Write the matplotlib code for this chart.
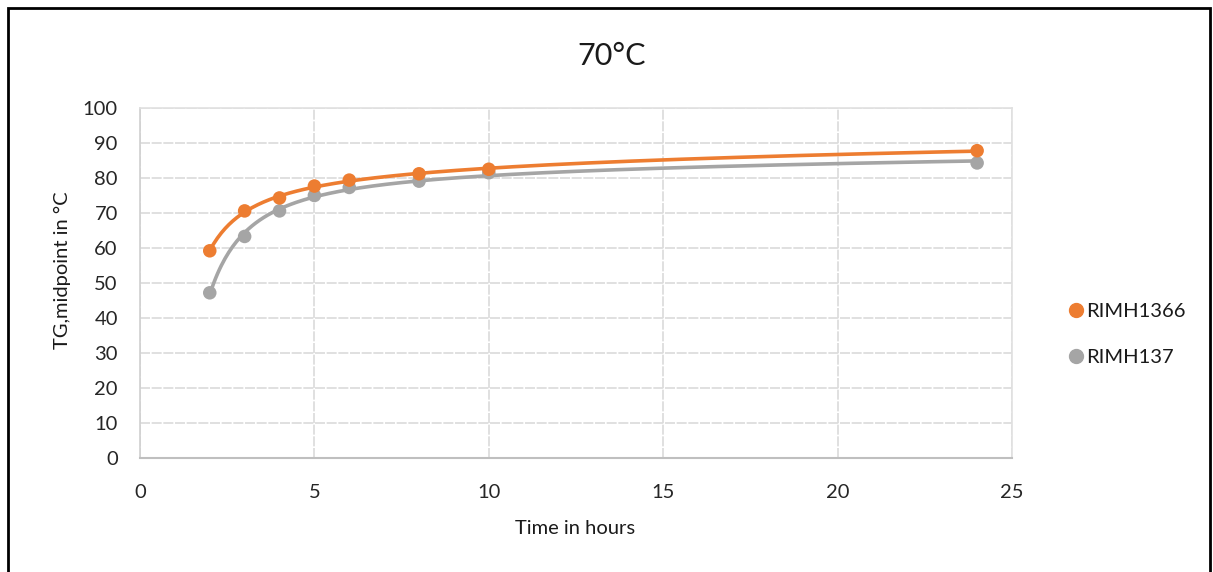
import numpy as np
import matplotlib
matplotlib.use("Agg")
import matplotlib.pyplot as plt
from matplotlib.patches import Rectangle
from matplotlib.lines import Line2D

plt.rcParams['font.family'] = ['Lato', 'DejaVu Sans']

# ---- data ----
hours = [2, 3, 4, 5, 6, 8, 10, 24]
rimh1366 = [59.2, 70.6, 74.3, 77.7, 79.4, 81.2, 82.5, 87.8]
rimh137 = [47.2, 63.3, 70.6, 75.0, 77.3, 79.1, 81.5, 84.3]
series_names = ["RIMH1366", "RIMH137"]
title = "70°C"
xlabel = "Time in hours"
ylabel = "TG,midpoint in °C"
xticks = [0, 5, 10, 15, 20, 25]
yticks = [0, 10, 20, 30, 40, 50, 60, 70, 80, 90, 100]

colors = ["#ED7D31", "#A5A5A5"]

fig = plt.figure(figsize=(12.13, 5.72), dpi=100)
ax = fig.add_axes([140/1213, 1-458/572, (1012-140)/1213, (458-108)/572])

def trend(x, y):
    x = np.asarray(x, float); y = np.asarray(y, float)
    A = np.column_stack([np.ones_like(x), np.log(x), 1.0/x**2])
    coef, *_ = np.linalg.lstsq(A, y, rcond=None)
    xs = np.linspace(x.min(), x.max(), 400)
    ys = coef[0] + coef[1]*np.log(xs) + coef[2]/xs**2
    return xs, ys

for yv, c in zip([rimh137, rimh1366], colors[::-1]):
    xs, ys = trend(hours, yv)
    ax.plot(xs, ys, color=c, lw=2.6, zorder=3, solid_capstyle='round')
    ax.scatter(hours, yv, s=95, color=c, zorder=4, edgecolors='none')

handles = [Line2D([], [], marker='o', ls='none', color=c, markersize=10, label=name)
           for name, c in zip(series_names, colors)]

ax.set_xlim(0, 25)
ax.set_ylim(0, 100)
ax.set_xticks(xticks)
ax.set_yticks(yticks)
ax.tick_params(length=0, labelsize=14.5, colors='#262626')
ax.tick_params(axis='y', pad=16)
ax.tick_params(axis='x', pad=19)
ax.grid(True, color='#dadada', lw=1.2, ls=(0, (6, 1)))
ax.set_axisbelow(True)
for s in ['top', 'right']:
    ax.spines[s].set_color('#e0e0e0')
    ax.spines[s].set_linewidth(1.2)
ax.spines['left'].set_color('#d0d0d0')
ax.spines['left'].set_linewidth(1.2)
ax.spines['bottom'].set_color('#bfbfbf')
ax.spines['bottom'].set_linewidth(1.5)

fig.text(575/1213, 1-528/572, xlabel, fontsize=14.5, color='#1a1a1a', ha='center', va='center')
fig.text(62/1213, 1-270/572, ylabel, fontsize=14.5, color='#1a1a1a', ha='center', va='center', rotation=90)
fig.text(612/1213, 1-56/572, title, fontsize=22, color='#1a1a1a', ha='center', va='center')

fig.legend(handles=handles, loc='upper left', bbox_to_anchor=(1056/1213, 1-293/572),
           frameon=False, fontsize=14.5, handletextpad=0.0, labelspacing=1.45,
           handlelength=1.0, borderpad=0, labelcolor='#1a1a1a')

fig.patches.append(Rectangle((8/1213, -0.05), (1210-8)/1213, 1.05-8/572, transform=fig.transFigure,
                             fill=False, edgecolor='black', lw=2, clip_on=False))

fig.savefig("out.png", dpi=100)
